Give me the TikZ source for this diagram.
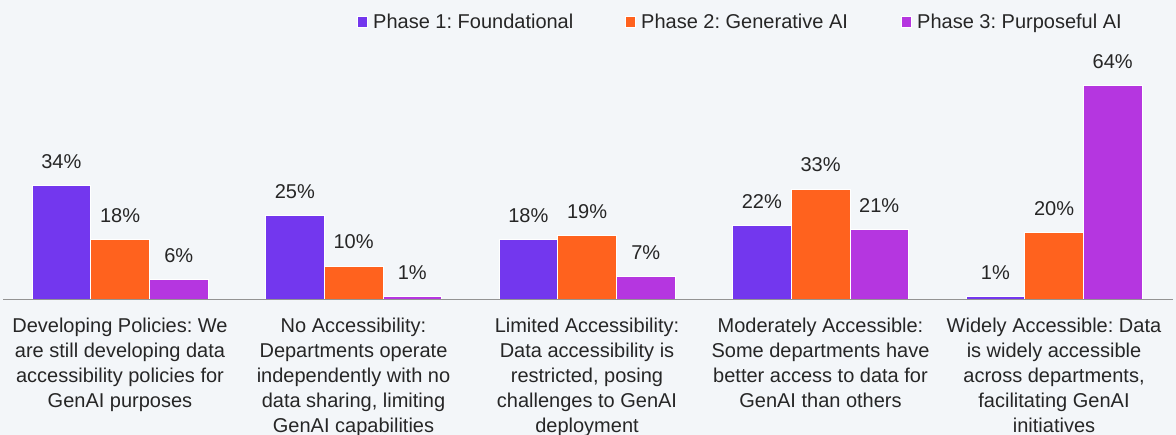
\documentclass[tikz,border=0pt]{standalone}
\usepackage{fontspec}
\setmainfont{Liberation Sans}
\frenchspacing
\begin{document}
\begin{tikzpicture}[x=1pt,y=-1pt]
        %colores
        \definecolor{fondo}{HTML}{F3F6F9}
        \definecolor{ph0}{HTML}{7337EE}
        \definecolor{ph1}{HTML}{FF621E}
        \definecolor{ph2}{HTML}{B536E0}
        \colorlet{txt}{black!85}
        \tikzset{val/.style={anchor=base,inner sep=0pt,text=txt,font=\fontsize{20}{25}\selectfont},
                 cat/.style={anchor=north,align=center,inner sep=0pt,text=txt,font=\fontsize{20}{25}\selectfont},
                 leg/.style={anchor=base west,inner sep=0pt,text=txt,font=\fontsize{20}{25}\selectfont}}

        % fondo y recorte
        \useasboundingbox (0,0) rectangle (1176,435);
        \fill[fondo] (0,0) rectangle (1176,435);
        \clip (0,0) rectangle (1176,435);

        % leyenda
        \foreach \i/\xs/\ltext in {0/357/Phase 1: Foundational, 1/625/Phase 2: Generative AI, 2/901/Phase 3: Purposeful AI}{
            \fill[ph\i,draw=white,line width=0.6pt] (\xs,16.5) rectangle ++(10.5,11);
            \node[leg] (ley\i) at (\xs+16,28.3) {\ltext};
        }

        % barras y valores
        \foreach \g/\vals in {0/{34,18,6},1/{25,10,1},2/{18,19,7},3/{22,33,21},4/{1,20,64}}
        \foreach \v [count=\i from 0] in \vals {
            \pgfmathsetmacro{\xl}{32+233.5*\g+58.7*\i}
            \fill[ph\i,draw=white,line width=0.8pt] (\xl,299.5) rectangle ++(58.7,-3.35*\v);
            \node[val] (v\g\i) at (\xl+29.35,299.5-3.35*\v-17) {\v\%};
        }

        % eje
        \coordinate (eje a) at (3,299.8);
        \coordinate (eje b) at (1173,299.8);
        \draw[gray!85,line width=1.3pt] (eje a) -- (eje b);

        % categorias
        \foreach \g/\ctext in {0/{Developing Policies: We\\are still developing data\\accessibility policies for\\GenAI purposes},
                               1/{No Accessibility:\\Departments operate\\independently with no\\data sharing, limiting\\GenAI capabilities},
                               2/{Limited Accessibility:\\Data accessibility is\\restricted, posing\\challenges to GenAI\\deployment},
                               3/{Moderately Accessible:\\Some departments have\\better access to data for\\GenAI than others},
                               4/{Widely Accessible: Data\\is widely accessible\\across departments,\\facilitating GenAI\\initiatives}}
            \node[cat] (cat\g) at (120+233.5*\g,317.7) {\ctext};
    \end{tikzpicture}
\end{document}
